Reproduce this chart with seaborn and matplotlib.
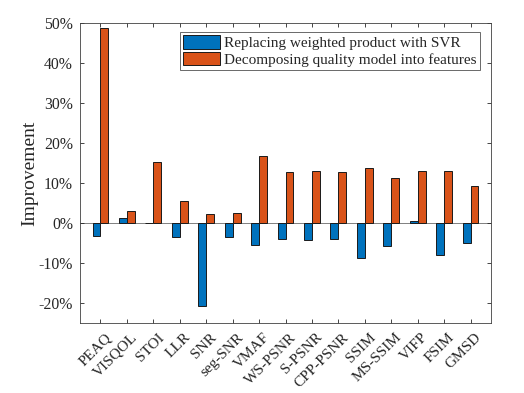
import matplotlib
matplotlib.use("Agg")
import matplotlib.pyplot as plt
import matplotlib.ticker as mticker
import matplotlib.transforms as mtransforms
import pandas as pd
import seaborn as sns

metrics = ['PEAQ', 'VISQOL', 'STOI', 'LLR', 'SNR', 'seg-SNR', 'VMAF', 'WS-PSNR',
           'S-PSNR', 'CPP-PSNR', 'SSIM', 'MS-SSIM', 'VIFP', 'FSIM', 'GMSD']
svr = [-3.3, 1.3, -0.1, -3.5, -20.7, -3.5, -5.6, -4.0,
       -4.2, -3.9, -8.75, -5.75, 0.4, -8.1, -4.9]
features = [48.8, 2.9, 15.2, 5.6, 2.2, 2.5, 16.8, 12.75,
            13.1, 12.8, 13.8, 11.2, 13.1, 12.9, 9.25]
series = ['Replacing weighted product with SVR',
          'Decomposing quality model into features']

df = pd.DataFrame({
    'metric': metrics * 2,
    'value': svr + features,
    'series': [series[0]] * len(metrics) + [series[1]] * len(metrics),
})

sns.set_style('white')
plt.rcParams['font.family'] = ['Liberation Serif', 'DejaVu Serif']

fig = plt.figure(figsize=(5.24, 3.93), dpi=100)
ax = fig.add_axes([0.1527, 0.178, 0.7843, 0.764])

sns.barplot(data=df, x='metric', y='value', hue='series', order=metrics,
            hue_order=series, palette=['#0072BD', '#D95319'], width=0.6,
            edgecolor='#1a1a1a', linewidth=0.7, saturation=1, ax=ax)

ax.axhline(0, color='#808080', lw=0.7, zorder=0.5)
ax.set_xlim(-0.775, 14.775)
ax.set_ylim(-25, 50)
ax.yaxis.set_major_locator(mticker.MultipleLocator(10))
ax.yaxis.set_major_formatter(mticker.FuncFormatter(lambda v, p: f'{v:.0f}%'.replace('\u2212', '-')))
ax.set_xlabel('')
ax.set_ylabel('Improvement', fontsize=14, labelpad=0)
ax.set_xticks(range(len(metrics)))
ax.set_xticklabels(metrics, rotation=45, ha='right', rotation_mode='anchor', fontsize=11)
ax.tick_params(axis='x', pad=5.5)
ax.tick_params(axis='y', labelsize=11.3, pad=5)
ax.tick_params(direction='in', length=3, width=0.6, color='#262626',
               top=True, right=True, bottom=True, left=True)
# nudge rotated labels a little to the right, like MATLAB places them
shift = mtransforms.ScaledTranslation(4 / 100, 0, fig.dpi_scale_trans)
for lbl in ax.get_xticklabels():
    lbl.set_transform(lbl.get_transform() + shift)
for s in ax.spines.values():
    s.set_color('#404040')
    s.set_linewidth(0.6)

leg = ax.legend(loc='upper right', bbox_to_anchor=(0.973, 0.968), fontsize=11,
                frameon=True, fancybox=False, edgecolor='#262626',
                handlelength=2.4, handleheight=0.95, handletextpad=0.28,
                borderpad=0.2, labelspacing=0.12, borderaxespad=0)
leg.get_frame().set_linewidth(0.6)

fig.savefig('out.png', dpi=100)
